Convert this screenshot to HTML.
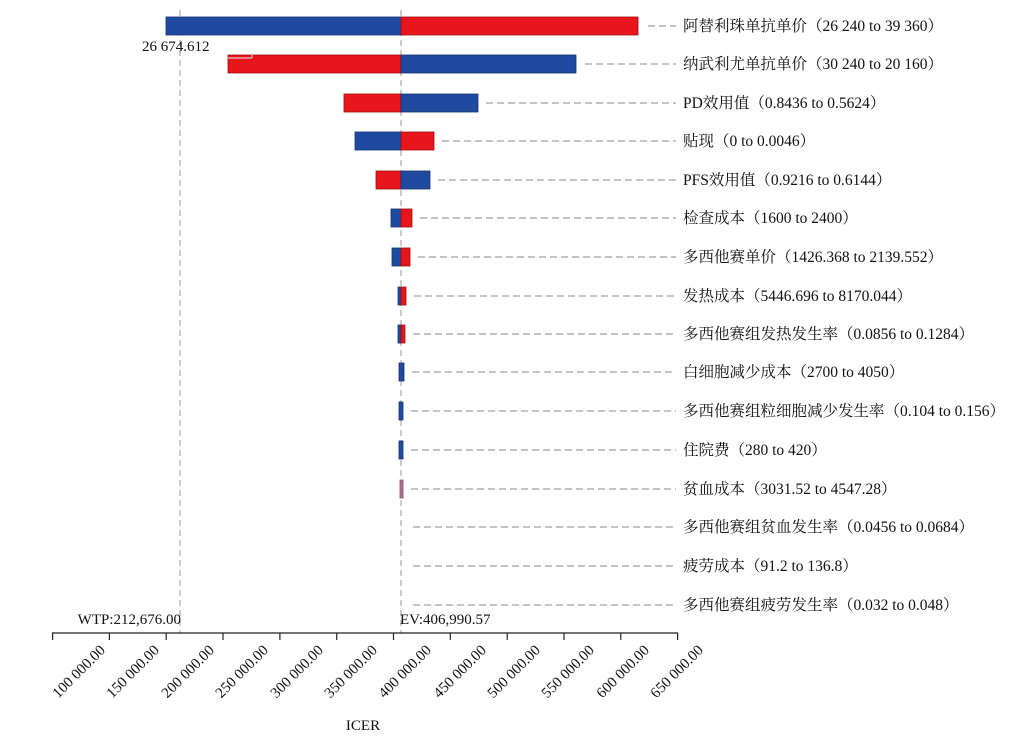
<!DOCTYPE html>
<html><head><meta charset="utf-8"><style>
body{margin:0;background:#fff}
svg{display:block;font-family:"Liberation Serif","Noto Serif CJK SC",serif}
</style></head><body>
<svg width="1021" height="736" viewBox="0 0 1021 736">
<g stroke="#999" stroke-dasharray="6,4" stroke-width="1">
<line x1="180" y1="10" x2="180" y2="633"/>
<line x1="401" y1="10" x2="401" y2="633"/>
</g>
<g stroke="#888" stroke-dasharray="7,4" stroke-width="1">
<line x1="648" y1="26" x2="676" y2="26"/>
<line x1="585" y1="64" x2="676" y2="64"/>
<line x1="486" y1="103" x2="676" y2="103"/>
<line x1="442" y1="141" x2="676" y2="141"/>
<line x1="438" y1="180" x2="676" y2="180"/>
<line x1="420" y1="218" x2="676" y2="218"/>
<line x1="418" y1="257" x2="676" y2="257"/>
<line x1="414" y1="296" x2="676" y2="296"/>
<line x1="413" y1="334" x2="676" y2="334"/>
<line x1="412" y1="372" x2="676" y2="372"/>
<line x1="411" y1="411" x2="676" y2="411"/>
<line x1="411" y1="450" x2="676" y2="450"/>
<line x1="411" y1="489" x2="676" y2="489"/>
<line x1="413" y1="527" x2="676" y2="527"/>
<line x1="413" y1="566" x2="676" y2="566"/>
<line x1="413" y1="605" x2="676" y2="605"/>
</g>
<g stroke-width="0.8">
<rect x="166" y="17" width="235" height="18" fill="#1f4aa0" stroke="#14306e"/>
<rect x="401" y="17" width="237" height="18" fill="#e8151d" stroke="#a01010"/>
<rect x="228" y="55" width="173" height="18" fill="#e8151d" stroke="#a01010"/>
<rect x="401" y="55" width="175" height="18" fill="#1f4aa0" stroke="#14306e"/>
<rect x="344" y="94" width="57" height="18" fill="#e8151d" stroke="#a01010"/>
<rect x="401" y="94" width="77" height="18" fill="#1f4aa0" stroke="#14306e"/>
<rect x="355" y="132" width="46" height="18" fill="#1f4aa0" stroke="#14306e"/>
<rect x="401" y="132" width="33" height="18" fill="#e8151d" stroke="#a01010"/>
<rect x="376" y="171" width="25" height="18" fill="#e8151d" stroke="#a01010"/>
<rect x="401" y="171" width="29" height="18" fill="#1f4aa0" stroke="#14306e"/>
<rect x="391" y="209" width="10" height="18" fill="#1f4aa0" stroke="#14306e"/>
<rect x="401" y="209" width="11" height="18" fill="#e8151d" stroke="#a01010"/>
<rect x="392" y="248" width="9" height="18" fill="#1f4aa0" stroke="#14306e"/>
<rect x="401" y="248" width="9" height="18" fill="#e8151d" stroke="#a01010"/>
<rect x="398" y="287" width="3" height="18" fill="#1f4aa0" stroke="#14306e"/>
<rect x="401" y="287" width="5" height="18" fill="#e8151d" stroke="#a01010"/>
<rect x="398" y="325" width="3" height="18" fill="#1f4aa0" stroke="#14306e"/>
<rect x="401" y="325" width="4" height="18" fill="#e8151d" stroke="#a01010"/>
<rect x="399" y="363" width="5" height="18" fill="#1f4aa0" stroke="#14306e"/>
<rect x="399" y="402" width="4" height="18" fill="#1f4aa0" stroke="#14306e"/>
<rect x="399" y="441" width="4" height="18" fill="#1f4aa0" stroke="#14306e"/>
<rect x="400" y="480" width="3" height="18" fill="#b87090" stroke="#805060"/>
</g>
<path d="M228 58 H252" stroke="#f3c0c0" stroke-width="1.2" fill="none"/>
<path d="M252 55 V58" stroke="#f3c0c0" stroke-width="1.2"/>
<g font-size="15" fill="#111">
<text x="142" y="51">26 674.612</text>
<text x="181" y="624" text-anchor="end">WTP:212,676.00</text>
<text x="400" y="624">EV:406,990.57</text>
</g>
<g font-size="15.5" fill="#111">
<text x="683" y="31">阿替利珠单抗单价（26 240 to 39 360）</text>
<text x="683" y="69">纳武利尤单抗单价（30 240 to 20 160）</text>
<text x="683" y="108">PD效用值（0.8436 to 0.5624）</text>
<text x="683" y="146">贴现（0 to 0.0046）</text>
<text x="683" y="185">PFS效用值（0.9216 to 0.6144）</text>
<text x="683" y="223">检查成本（1600 to 2400）</text>
<text x="683" y="262">多西他赛单价（1426.368 to 2139.552）</text>
<text x="683" y="301">发热成本（5446.696 to 8170.044）</text>
<text x="683" y="339">多西他赛组发热发生率（0.0856 to 0.1284）</text>
<text x="683" y="377">白细胞减少成本（2700 to 4050）</text>
<text x="683" y="416">多西他赛组粒细胞减少发生率（0.104 to 0.156）</text>
<text x="683" y="455">住院费（280 to 420）</text>
<text x="683" y="494">贫血成本（3031.52 to 4547.28）</text>
<text x="683" y="532">多西他赛组贫血发生率（0.0456 to 0.0684）</text>
<text x="683" y="571">疲劳成本（91.2 to 136.8）</text>
<text x="683" y="610">多西他赛组疲劳发生率（0.032 to 0.048）</text>
</g>
<line x1="52" y1="633" x2="678" y2="633" stroke="#222" stroke-width="1.2"/>
<g stroke="#222" stroke-width="1.2">
<line x1="52.6" y1="633" x2="52.6" y2="640"/><line x1="109.4" y1="633" x2="109.4" y2="640"/>
<line x1="166.2" y1="633" x2="166.2" y2="640"/><line x1="223" y1="633" x2="223" y2="640"/>
<line x1="279.9" y1="633" x2="279.9" y2="640"/><line x1="336.7" y1="633" x2="336.7" y2="640"/>
<line x1="393.5" y1="633" x2="393.5" y2="640"/><line x1="450.3" y1="633" x2="450.3" y2="640"/>
<line x1="507.2" y1="633" x2="507.2" y2="640"/><line x1="564" y1="633" x2="564" y2="640"/>
<line x1="620.8" y1="633" x2="620.8" y2="640"/><line x1="677.6" y1="633" x2="677.6" y2="640"/>
</g>
<g font-size="15" fill="#111" text-anchor="end">
<text transform="translate(106,651) rotate(-45)">100 000.00</text>
<text transform="translate(160,651) rotate(-45)">150 000.00</text>
<text transform="translate(215,651) rotate(-45)">200 000.00</text>
<text transform="translate(269,651) rotate(-45)">250 000.00</text>
<text transform="translate(324,651) rotate(-45)">300 000.00</text>
<text transform="translate(378,651) rotate(-45)">350 000.00</text>
<text transform="translate(432,651) rotate(-45)">400 000.00</text>
<text transform="translate(487,651) rotate(-45)">450 000.00</text>
<text transform="translate(541,651) rotate(-45)">500 000.00</text>
<text transform="translate(595,651) rotate(-45)">550 000.00</text>
<text transform="translate(650,651) rotate(-45)">600 000.00</text>
<text transform="translate(704,651) rotate(-45)">650 000.00</text>
</g>
<text x="363" y="730" font-size="15" text-anchor="middle" fill="#111">ICER</text>
</svg>
</body></html>
